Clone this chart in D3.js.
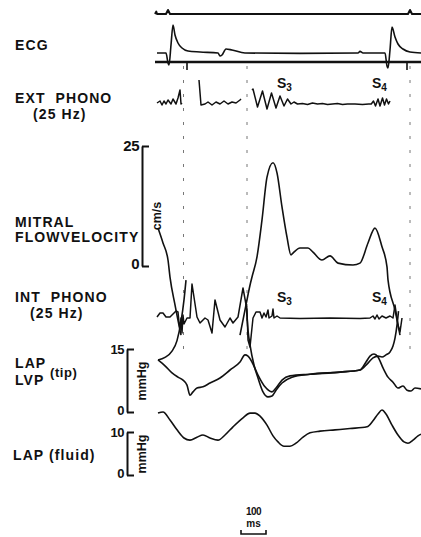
<!DOCTYPE html>
<html>
<head>
<meta charset="utf-8">
<script src="https://cdn.jsdelivr.net/npm/d3@7"></script>
<style>
  body { margin: 0; background: #fff; }
  text { font-family: "Liberation Sans", Arial, sans-serif; font-weight: bold; fill: #111; }
</style>
</head>
<body>
<div class="viz"></div>
<script>
// time in ms from the left edge of the traces, values in each trace's own unit
// null = pen off the chart (gap)

const marker = [[0,0],[5,0.6],[8,0],[44,0],[52,1],[60,0],[1012,0],[1020,1],[1028,0],[1064,0]]

const ecg = [[8,0],[44,0],[52,-0.5],[56,-0.6],[64,0.4],[72,1.4],[80,0.9],[92,0.5],[108,0.25],[132,0.1],
  [180,0.05],[252,0],[260,-0.15],[268,-0.1],[284,0.2],[308,0.15],[360,0],[580,-0.02],[812,0],[820,0.08],
  [832,0],[920,0],[928,-0.65],[932,-0.75],[940,0.15],[948,1.3],[960,0.8],[972,0.45],[992,0.2],[1020,0.05],[1064,0]]
const ecgTicks = [128, 1008]

const extPhono = [[8,1],[20,3],[28,-1],[36,3],[44,0],[52,4],[64,0],[72,5],[84,0],[92,6],[100,14],[104,0],[108,1],[112,null],
  [176,24],[184,-1],[200,0],[212,2],[228,-1],[244,2],[260,0],[276,3],[292,0],[308,2],[324,1],[340,4],[344,5],[350,null],
  [388,14],[392,15],[410,-3],[430,13],[448,-5],[466,11],[484,-4],[500,8],[516,-2],[530,5],[544,0],[556,2],[570,0],
  [590,0.5],[610,-0.5],[630,1],[650,0],[670,0.5],[690,-0.5],[710,0],[730,0.5],[750,-0.5],[770,0],
  [800,0],[830,-0.5],[855,0],[865,0],[874,3],[882,-2],[892,5],[900,-2],[910,6],[918,-1],[926,5],[934,0],[940,3]]

const mitralFlow = [[12,7.9],[32,4.8],[52,1.25],[60,-2.3],[80,-8.1],[104,-14.4],[110,null],
  [340,-14.4],[364,-8.1],[380,-4.0],[388,-2.3],[408,1.9],[428,9.6],[448,18.5],[472,21.5],[488,19.4],[508,12.3],
  [528,6.0],[544,2.3],[552,2.7],[580,3.75],[612,3.75],[632,2.9],[668,1.25],[700,2.1],[732,0.6],[792,0.2],
  [820,0.6],[852,4.8],[880,7.9],[908,4.0],[928,-0.2],[932,-2.9],[960,-9.2],[980,-14.4]]

const intPhono = [[8,1],[20,5],[32,5],[44,1],[60,1],[72,4],[84,7],[92,6],[96,-4],[100,-12],[104,0],[108,-15],[112,3],
  [116,-6],[128,0],[140,0],[148,34],[168,1],[180,-5],[200,0],[212,-2],[228,-15],[240,18],[260,-2],[280,-9],[300,0],
  [312,-5],[332,1],[352,30],[368,8],[372,-22],[380,-29],[392,0],[404,6],[420,6],[428,0],[436,5],[444,1],[452,8],
  [456,0],[468,2],[472,9],[476,0],[488,2],[500,0],[580,-0.5],[700,0],[820,-0.5],[860,0],[872,2],[880,-1],[888,3],
  [896,-1],[908,2],[924,0],[940,2],[952,0],[960,13],[972,-7],[980,-14],[988,0]]

const lapTip = [[12,12.4],[40,11.0],[68,9.3],[92,8.3],[112,7.6],[128,6.4],[140,4.0],[152,4.8],[168,5.7],[192,6.0],
  [220,6.9],[260,8.1],[300,10.0],[340,11.9],[360,13.6],[372,13.3],[388,11.9],[412,8.8],[440,6.0],[468,4.8],
  [484,5.7],[508,7.6],[540,8.6],[620,9.0],[740,9.5],[820,10.0],[844,11.9],[860,13.3],[876,13.8],[892,13.1],
  [912,10.5],[932,8.3],[952,7.1],[972,5.7],[992,6.2],[1008,5.2],[1024,5.0],[1040,5.7],[1064,5.5]]

const lvpTip = [[12,12.4],[40,13.0],[68,14.5],[88,17.0],[104,21.5],[116,26.7],[124,31.4],[130,null],
  [364,26.7],[372,19.5],[380,16.0],[396,11.2],[412,8.1],[432,4.8],[452,3.6],[468,3.8],[484,5.2],[508,6.9],
  [548,8.3],[620,9.0],[740,9.5],[820,10.0],[848,11.4],[872,12.9],[892,13.3],[908,13.1],[924,13.6],[940,14.3],
  [952,15.7],[960,17.6],[968,20.7],[974,24]]

const lapFluid = [[12,14.4],[32,14.65],[60,12.8],[88,10.5],[116,8.6],[140,8.1],[168,8.8],[192,9.3],[220,8.6],
  [252,8.1],[280,9.3],[312,11.2],[352,13.3],[380,14.4],[400,14.4],[420,13.7],[448,11.6],[472,9.1],[492,7.7],
  [516,6.7],[540,6.7],[564,7.4],[592,8.8],[620,9.8],[660,10.2],[720,10.5],[780,10.8],[848,11.2],[872,12.6],
  [892,14.2],[908,15.1],[924,14.2],[948,11.6],[972,9.3],[996,7.7],[1012,7.4],[1032,8.1],[1052,9.1],[1064,9.5]]

const timeMarks = [114, 368, 1020]
const soundLabels = [{ t: 488, n: '3' }, { t: 868, n: '4' }]
const mitralTicks = [0, 25]
const tipTicks = [0, 15]
const fluidTicks = [0, 10]

const svg = d3.select('.viz').append('svg')
  .attr('width', 421)
  .attr('height', 537)

const x = d3.scaleLinear().domain([0, 1064]).range([155, 421])

const yMarker = d3.scaleLinear().domain([0, 1]).range([14, 10])
const yEcg = d3.scaleLinear().domain([0, 1]).range([53, 33])
const yExt = d3.scaleLinear().domain([-10, 20]).range([114, 84])
const yMitral = d3.scaleLinear().domain([0, 25]).range([266, 146])
const yInt = d3.scaleLinear().domain([-10, 20]).range([328, 298])
const yTip = d3.scaleLinear().domain([0, 15]).range([412, 349])
const yFluid = d3.scaleLinear().domain([0, 10]).range([475, 432])

// faint timing marks of the recorder
svg.append('g').selectAll('line')
  .data(timeMarks)
  .enter()
  .append('line')
  .attr('x1', d => x(d)).attr('x2', d => x(d))
  .attr('y1', 66).attr('y2', 360)
  .attr('stroke', '#777')
  .attr('stroke-width', 1)
  .attr('stroke-dasharray', '3,11')

const drawTrace = (data, y, curve, w) => {
  svg.append('path')
    .datum(data)
    .attr('fill', 'none')
    .attr('stroke', '#111')
    .attr('stroke-width', w)
    .attr('stroke-linejoin', 'round')
    .attr('d', d3.line().defined(d => d[1] !== null).x(d => x(d[0])).y(d => y(d[1])).curve(curve))
}

drawTrace(marker, yMarker, d3.curveLinear, 2)
drawTrace(ecg, yEcg, d3.curveMonotoneX, 1.6)
// ECG reference line with ticks
svg.append('line')
  .attr('x1', x(0)).attr('x2', x(1064))
  .attr('y1', yEcg(-0.45)).attr('y2', yEcg(-0.45))
  .attr('stroke', '#111').attr('stroke-width', 2.4)
svg.append('g').selectAll('line')
  .data(ecgTicks)
  .enter()
  .append('line')
  .attr('x1', d => x(d)).attr('x2', d => x(d))
  .attr('y1', yEcg(-0.45)).attr('y2', yEcg(-0.85))
  .attr('stroke', '#111').attr('stroke-width', 1.6)

drawTrace(extPhono, yExt, d3.curveLinear, 1.5)
drawTrace(mitralFlow, yMitral, d3.curveMonotoneX, 1.6)
drawTrace(intPhono, yInt, d3.curveLinear, 1.5)
drawTrace(lapTip, yTip, d3.curveMonotoneX, 1.6)
drawTrace(lvpTip, yTip, d3.curveMonotoneX, 1.6)
drawTrace(lapFluid, yFluid, d3.curveMonotoneX, 1.6)

// S3 / S4 labels
const drawSounds = (yBase) => {
  const t = svg.append('g').selectAll('text')
    .data(soundLabels)
    .enter()
    .append('text')
    .attr('x', d => x(d.t))
    .attr('y', yBase)
    .attr('font-size', 14)
  t.append('tspan').text('S')
  t.append('tspan').attr('font-size', 10).attr('dy', 3).text(d => d.n)
}
drawSounds(88)
drawSounds(302)

// scale axes
const drawAxis = (y, ticks, ax, fs, label, labelY) => {
  const g = svg.append('g')
    .attr('transform', `translate(${ax},0)`)
    .call(d3.axisRight(y).tickValues(ticks).tickSize(7).tickSizeOuter(0).tickFormat(''))
  g.select('.domain').attr('stroke', '#111').attr('stroke-width', 2)
  g.selectAll('.tick line').attr('stroke', '#111').attr('stroke-width', 2)

  svg.append('g').selectAll('text')
    .data(ticks)
    .enter()
    .append('text')
    .text(d => d)
    .attr('x', ax - 3)
    .attr('y', (d, i) => i === 0 ? y(d) + 3 : y(d) + fs * 0.36)
    .attr('text-anchor', 'end')
    .attr('font-size', fs)
    .attr('letter-spacing', -0.5)

  svg.append('text')
    .text(label)
    .attr('transform', `translate(${ax + 19},${labelY}) rotate(-90)`)
    .attr('text-anchor', 'middle')
    .attr('font-size', 12.5)
}
drawAxis(yMitral, mitralTicks, 142, 15, 'cm/s', 216)
drawAxis(yTip, tipTicks, 127, 13, 'mmHg', 381)
drawAxis(yFluid, fluidTicks, 127, 13, 'mmHg', 454)

// channel labels
const labels = [
  { s: 'ECG', x: 15, y: 50 },
  { s: 'EXT  PHONO', x: 15, y: 103 },
  { s: '(25 Hz)', x: 33, y: 119 },
  { s: 'MITRAL', x: 15, y: 227 },
  { s: 'FLOWVELOCITY', x: 15, y: 242 },
  { s: 'INT  PHONO', x: 15, y: 302 },
  { s: '(25 Hz)', x: 30, y: 318 },
  { s: 'LAP', x: 15, y: 368 },
  { s: 'LVP', x: 15, y: 385 },
  { s: 'LAP (fluid)', x: 13, y: 460 }
]
svg.append('g').selectAll('text')
  .data(labels)
  .enter()
  .append('text')
  .text(d => d.s)
  .attr('x', d => d.x)
  .attr('y', d => d.y)
  .attr('font-size', 14)
  .attr('letter-spacing', 1.1)
  .style('white-space', 'pre')

svg.append('text')
  .text('(tip)')
  .attr('x', 50).attr('y', 377)
  .attr('font-size', 13)
  .attr('letter-spacing', 0.6)

// 100 ms scale bar
const bar = svg.append('g')
bar.append('path')
  .attr('d', `M${x(344)},530 V534 H${x(444)} V530`)
  .attr('fill', 'none').attr('stroke', '#111').attr('stroke-width', 1.6)
bar.append('text').text('100')
  .attr('x', x(394)).attr('y', 515)
  .attr('text-anchor', 'middle').attr('font-size', 10).attr('letter-spacing', -0.6)
bar.append('text').text('ms')
  .attr('x', x(394)).attr('y', 527)
  .attr('text-anchor', 'middle').attr('font-size', 10)
</script>
</body>
</html>
